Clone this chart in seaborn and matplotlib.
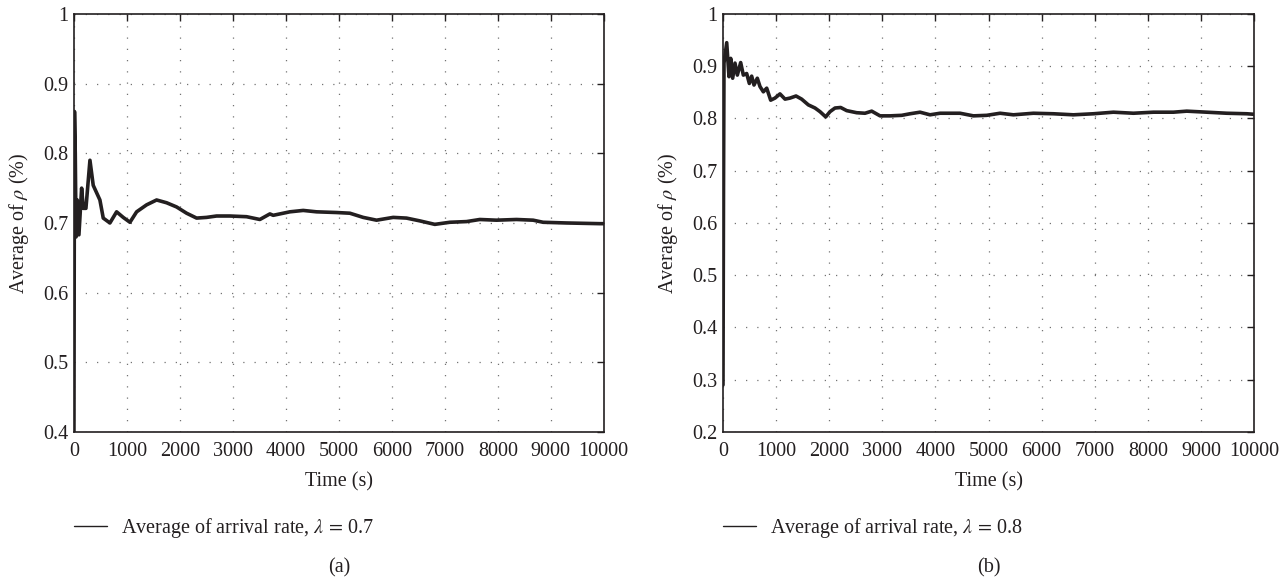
import numpy as np
import pandas as pd
import matplotlib
matplotlib.use("Agg")
import matplotlib.pyplot as plt
import seaborn as sns

# Panel (a): arrival rate 0.7
time_a = [0, 10, 25, 40, 62, 94, 145, 176, 226, 302, 364, 490, 553, 679, 805, 930,
          1057, 1183, 1371, 1560, 1749, 1937, 2126, 2315, 2503, 2692, 2943, 3258,
          3509, 3698, 3761, 4075, 4327, 4579, 4956, 5208, 5459, 5711, 6025, 6277,
          6528, 6811, 7094, 7409, 7660, 7975, 8352, 8667, 8855, 9296, 9925, 10000]
rho_a = [0.40, 0.86, 0.80, 0.68, 0.733, 0.683, 0.750, 0.721, 0.721, 0.790, 0.754,
         0.733, 0.707, 0.700, 0.716, 0.708, 0.701, 0.716, 0.726, 0.733, 0.729, 0.723,
         0.714, 0.707, 0.708, 0.710, 0.710, 0.709, 0.705, 0.713, 0.711, 0.716, 0.718,
         0.716, 0.715, 0.714, 0.708, 0.704, 0.708, 0.707, 0.703, 0.698, 0.701, 0.702,
         0.705, 0.704, 0.705, 0.704, 0.701, 0.700, 0.699, 0.699]

# Panel (b): arrival rate 0.8
time_b = [0, 10, 19, 70, 113, 145, 182, 226, 270, 333, 383, 446, 496, 540, 584, 646,
          697, 760, 823, 898, 979, 1073, 1168, 1262, 1375, 1481, 1607, 1733, 1827,
          1934, 2015, 2109, 2216, 2329, 2517, 2674, 2800, 2957, 3145, 3365, 3522,
          3710, 3898, 4087, 4463, 4715, 4966, 5217, 5468, 5844, 6221, 6598, 6974,
          7351, 7728, 8104, 8481, 8732, 9109, 9486, 9862, 10000]
rho_b = [0.29, 0.67, 0.906, 0.945, 0.880, 0.915, 0.877, 0.906, 0.883, 0.907, 0.883,
         0.886, 0.867, 0.881, 0.864, 0.877, 0.861, 0.851, 0.858, 0.835, 0.839, 0.847,
         0.837, 0.839, 0.843, 0.837, 0.826, 0.820, 0.813, 0.803, 0.813, 0.820, 0.821,
         0.815, 0.811, 0.810, 0.814, 0.805, 0.805, 0.806, 0.809, 0.812, 0.807, 0.810,
         0.810, 0.805, 0.806, 0.810, 0.807, 0.810, 0.809, 0.807, 0.809, 0.812, 0.810,
         0.812, 0.812, 0.814, 0.812, 0.810, 0.809, 0.808]

x_ticks = [0, 1000, 2000, 3000, 4000, 5000, 6000, 7000, 8000, 9000, 10000]
y_ticks_a = [0.4, 0.5, 0.6, 0.7, 0.8, 0.9, 1.0]
y_labels_a = ["0.4", "0.5", "0.6", "0.7", "0.8", "0.9", "1"]
y_ticks_b = [0.2, 0.3, 0.4, 0.5, 0.6, 0.7, 0.8, 0.9, 1.0]
y_labels_b = ["0.2", "0.3", "0.4", "0.5", "0.6", "0.7", "0.8", "0.9", "1"]

sns.set_theme(style="white")
plt.rcParams["font.family"] = ["Liberation Serif", "DejaVu Serif"]
plt.rcParams["mathtext.fontset"] = "stix"

fs = 14.5
ink = "#231f20"

fig = plt.figure(figsize=(12.86, 5.84), dpi=100)
ax_a = fig.add_axes([0.0575, 0.2603, 0.412, 0.7158])
ax_b = fig.add_axes([0.5622, 0.2603, 0.413, 0.7158])

panels = [
    (ax_a, time_a, rho_a, y_ticks_a, y_labels_a, r"Average of arrival rate, $\lambda\,=\,$0.7", "(a)"),
    (ax_b, time_b, rho_b, y_ticks_b, y_labels_b, r"Average of arrival rate, $\lambda\,=\,$0.8", "(b)"),
]

for ax, t, r, yt, yl, lab, tag in panels:
    df = pd.DataFrame({"Time": t, "rho": r})
    sns.lineplot(data=df, x="Time", y="rho", ax=ax, color=ink,
                 linewidth=2.6, label=lab)
    ax.set_xlim(0, 10000)
    ax.set_ylim(yt[0], yt[-1])
    ax.set_xticks(x_ticks)
    ax.set_xticklabels([str(v) for v in x_ticks])
    ax.set_yticks(yt)
    ax.set_yticklabels(yl)
    ax.grid(True, linestyle=(0, (1, 8)), color="0.45", linewidth=0.9)
    ax.tick_params(direction="in", top=True, right=True, length=5, width=1,
                   labelsize=fs, color=ink, labelcolor=ink)
    ax.tick_params(axis="x", pad=7)
    ax.tick_params(axis="y", pad=4)
    for s in ax.spines.values():
        s.set_color(ink)
        s.set_linewidth(1.2)
    ax.set_xlabel("Time (s)", fontsize=fs, color=ink, labelpad=8)
    ax.set_ylabel(r"Average of $\rho$ (%)", fontsize=fs, color=ink, labelpad=9)
    leg = ax.legend(loc="center left", bbox_to_anchor=(0.0, -0.23), frameon=False,
                    fontsize=fs, handlelength=1.65, handletextpad=0.7,
                    borderpad=0, borderaxespad=0)
    for ln in leg.get_lines():
        ln.set_linewidth(1.0)
    for txt in leg.get_texts():
        txt.set_color(ink)
    ax.text(0.5, -0.325, tag, transform=ax.transAxes, ha="center", va="center",
            fontsize=fs, color=ink)

fig.savefig("out.png", dpi=100)
